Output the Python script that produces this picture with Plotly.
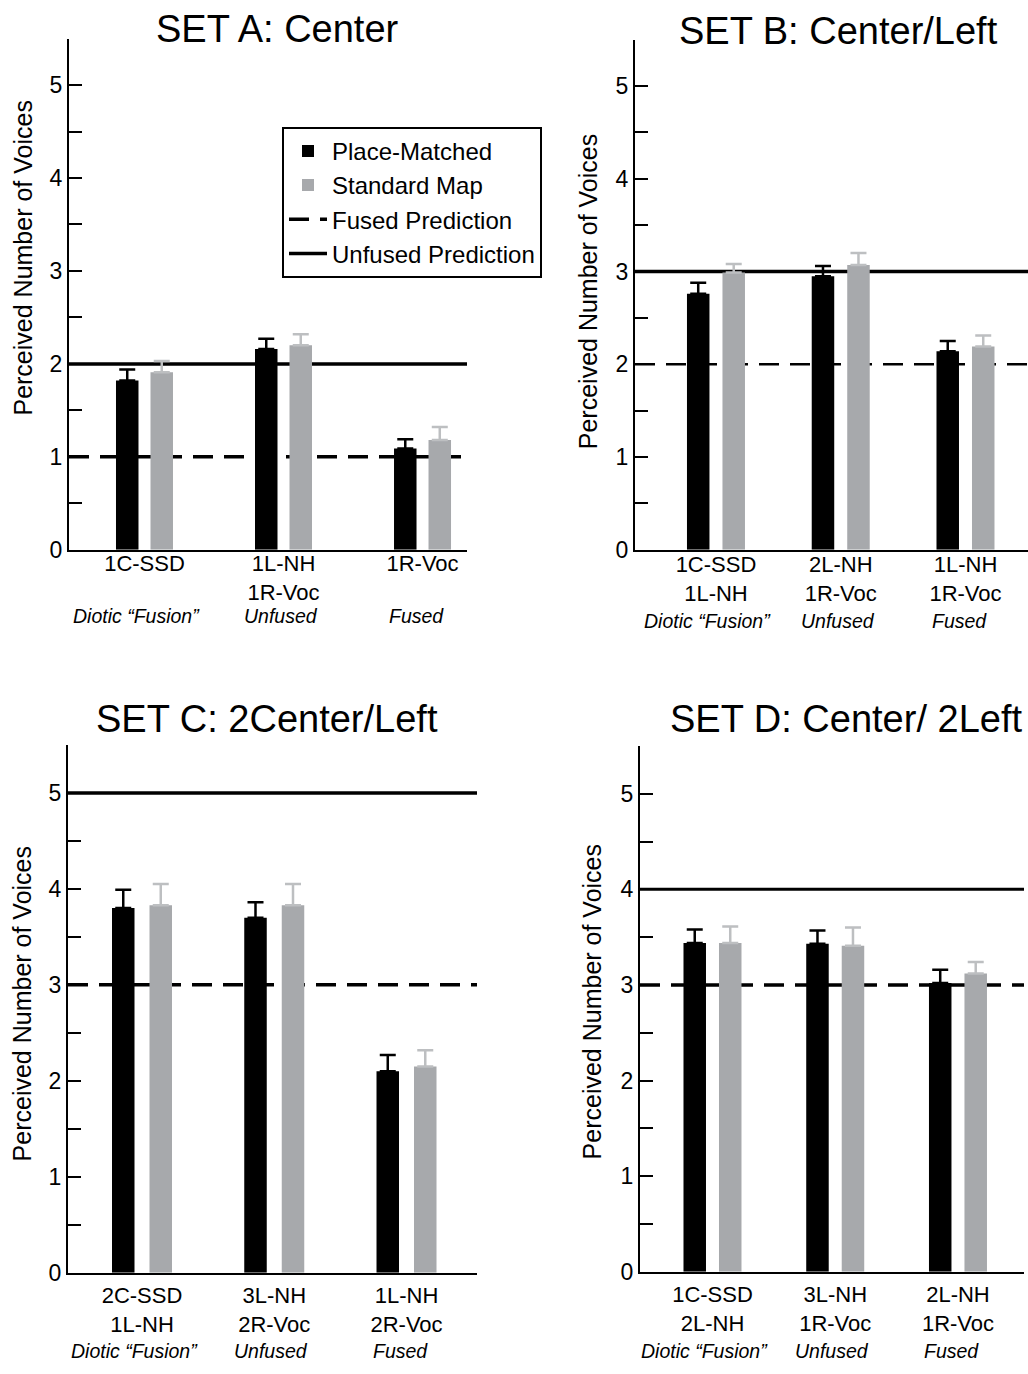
import plotly.graph_objects as go

# ---------------- data ----------------
panel_titles = ["SET A: Center", "SET B: Center/Left", "SET C: 2Center/Left", "SET D: Center/ 2Left"]

categories_A = ["1C-SSD", "1L-NH<br>1R-Voc", "1R-Voc"]
categories_B = ["1C-SSD<br>1L-NH", "2L-NH<br>1R-Voc", "1L-NH<br>1R-Voc"]
categories_C = ["2C-SSD<br>1L-NH", "3L-NH<br>2R-Voc", "1L-NH<br>2R-Voc"]
categories_D = ["1C-SSD<br>2L-NH", "3L-NH<br>1R-Voc", "2L-NH<br>1R-Voc"]

condition_labels = ["Diotic “Fusion”", "Unfused", "Fused"]

place_matched_A = [1.82, 2.16, 1.09]
place_matched_err_A = [0.12, 0.11, 0.10]
standard_map_A = [1.91, 2.20, 1.18]
standard_map_err_A = [0.12, 0.12, 0.14]

place_matched_B = [2.76, 2.95, 2.14]
place_matched_err_B = [0.12, 0.11, 0.11]
standard_map_B = [2.99, 3.07, 2.19]
standard_map_err_B = [0.09, 0.13, 0.12]

place_matched_C = [3.80, 3.70, 2.10]
place_matched_err_C = [0.19, 0.16, 0.17]
standard_map_C = [3.83, 3.83, 2.15]
standard_map_err_C = [0.22, 0.22, 0.17]

place_matched_D = [3.44, 3.43, 3.02]
place_matched_err_D = [0.14, 0.14, 0.14]
standard_map_D = [3.44, 3.41, 3.12]
standard_map_err_D = [0.17, 0.19, 0.12]

fused_prediction = [1, 2, 3, 3]
unfused_prediction = [2, 3, 5, 4]

series_names = ["Place-Matched", "Standard Map"]
y_title = "Perceived Number of Voices"

# ---------------- styling / layout ----------------
W, H = 1028, 1374
FONT = "Liberation Sans, Arial, Helvetica, sans-serif"
BLACK = "#000000"
GRAY = "#A7A9AC"
GRAY_ERR = "#BDBFC1"

panels = [
    dict(cats=categories_A, pm=place_matched_A, pme=place_matched_err_A,
         sm=standard_map_A, sme=standard_map_err_A,
         xpx=(69, 467), ypx=(39, 555), xr=(-0.543, 2.32),
         title_xy=(277, 29), ytitle_xy=(23, 261), sub_y=622, standoff=-7,
         dash_w=3.5, solid_w=3.5, gap=12),
    dict(cats=categories_B, pm=place_matched_B, pme=place_matched_err_B,
         sm=standard_map_B, sme=standard_map_err_B,
         xpx=(635, 1028), ypx=(40, 555), xr=(-0.649, 2.501),
         title_xy=(838, 31), ytitle_xy=(588, 295), sub_y=627, standoff=-6,
         dash_w=2.5, solid_w=3.5, gap=13),
    dict(cats=categories_C, pm=place_matched_C, pme=place_matched_err_C,
         sm=standard_map_C, sme=standard_map_err_C,
         xpx=(68, 477), ypx=(752, 1285), xr=(-0.5595, 2.533),
         title_xy=(267, 726), ytitle_xy=(22, 1014), sub_y=1364, standoff=2,
         dash_w=3.5, solid_w=3.5, gap=15),
    dict(cats=categories_D, pm=place_matched_D, pme=place_matched_err_D,
         sm=standard_map_D, sme=standard_map_err_D,
         xpx=(640, 1024), ypx=(753, 1284), xr=(-0.5906, 2.538),
         title_xy=(846, 726), ytitle_xy=(592, 1012), sub_y=1364, standoff=2,
         dash_w=3.5, solid_w=3.0, gap=13),
]
BAR_PX = 22.5
sub_xshift = [-8, -3, -6]

fig = go.Figure()
layout_axes = {}
annotations = []

for k, p in enumerate(panels):
    n = k + 1
    xname = "x" if n == 1 else f"x{n}"
    yname = "y" if n == 1 else f"y{n}"
    ppu = (p["xpx"][1] - p["xpx"][0]) / (p["xr"][1] - p["xr"][0])
    w = BAR_PX / ppu
    g = p["gap"] / ppu

    for j, (vals, errs, col, ecol) in enumerate([
        (p["pm"], p["pme"], BLACK, BLACK),
        (p["sm"], p["sme"], GRAY, GRAY_ERR),
    ]):
        offset = -(g / 2 + w) if j == 0 else g / 2
        fig.add_trace(go.Bar(
            x=p["cats"], y=vals, name=series_names[j],
            marker=dict(color=col, line=dict(width=0)),
            width=w, offset=offset,
            error_y=dict(type="data", array=errs, arrayminus=[0] * len(errs),
                         symmetric=False, color=ecol, thickness=2.5, width=8),
            xaxis=xname, yaxis=yname,
            showlegend=(k == 0), legendgroup=series_names[j], legendrank=j + 1,
        ))

    # prediction lines
    fig.add_shape(type="line", xref=f"{xname} domain", yref=yname,
                  x0=0, x1=1, y0=fused_prediction[k], y1=fused_prediction[k],
                  line=dict(color=BLACK, width=p["dash_w"], dash="20px,11px"),
                  layer="below", showlegend=(k == 0), name="Fused Prediction", legendrank=3)
    fig.add_shape(type="line", xref=f"{xname} domain", yref=yname,
                  x0=0, x1=1, y0=unfused_prediction[k], y1=unfused_prediction[k],
                  line=dict(color=BLACK, width=p["solid_w"]),
                  layer="below", showlegend=(k == 0), name="Unfused Prediction", legendrank=4)

    xkey = "xaxis" if n == 1 else f"xaxis{n}"
    ykey = "yaxis" if n == 1 else f"yaxis{n}"
    layout_axes[xkey] = dict(
        domain=[p["xpx"][0] / W, p["xpx"][1] / W], anchor=yname,
        type="category", range=list(p["xr"]),
        showline=True, linecolor=BLACK, linewidth=2, ticks="",
        showgrid=False, zeroline=False, ticklabelstandoff=p["standoff"],
        tickfont=dict(family=FONT, size=22, color=BLACK),
    )
    layout_axes[ykey] = dict(
        domain=[1 - p["ypx"][1] / H, 1 - p["ypx"][0] / H], anchor=xname,
        range=[0, 5.5], tick0=0, dtick=1,
        showline=True, linecolor=BLACK, linewidth=2,
        ticks="inside", ticklen=13, tickwidth=2, tickcolor=BLACK,
        minor=dict(tick0=0, dtick=0.5, ticks="inside", ticklen=13, tickwidth=2,
                   tickcolor=BLACK, showgrid=False),
        showgrid=False, zeroline=False,
        tickfont=dict(family=FONT, size=23, color=BLACK),
    )

    # panel title
    annotations.append(dict(text=panel_titles[k], xref="paper", yref="paper",
                            x=p["title_xy"][0] / W, y=1 - p["title_xy"][1] / H,
                            xanchor="center", yanchor="middle", showarrow=False,
                            font=dict(family=FONT, size=38, color=BLACK)))
    # y axis title
    annotations.append(dict(text=y_title, xref="paper", yref="paper",
                            x=p["ytitle_xy"][0] / W, y=1 - p["ytitle_xy"][1] / H,
                            xanchor="center", yanchor="middle", textangle=-90,
                            showarrow=False, font=dict(family=FONT, size=25, color=BLACK)))
    # condition subtitles
    for i, lab in enumerate(condition_labels):
        annotations.append(dict(text=f"<i>{lab}</i>", xref=xname, yref="paper",
                                x=i, y=1 - p["sub_y"] / H, xshift=sub_xshift[i],
                                xanchor="center", yanchor="middle", showarrow=False,
                                font=dict(family=FONT, size=19.5, color=BLACK)))

fig.update_layout(
    width=W, height=H,
    margin=dict(l=0, r=0, t=0, b=0),
    paper_bgcolor="white", plot_bgcolor="white",
    barmode="overlay",
    font=dict(family=FONT, color=BLACK),
    showlegend=True,
    legend=dict(x=282 / W, y=1 - 128 / H, xanchor="left", yanchor="top",
                bordercolor=BLACK, borderwidth=2, bgcolor="white",
                font=dict(family=FONT, size=24, color=BLACK),
                itemwidth=38, tracegroupgap=0),
    annotations=annotations,
    **layout_axes,
)

fig.write_html("out.html", config={"displayModeBar": False},
               post_script="document.body.style.margin='0px';")
